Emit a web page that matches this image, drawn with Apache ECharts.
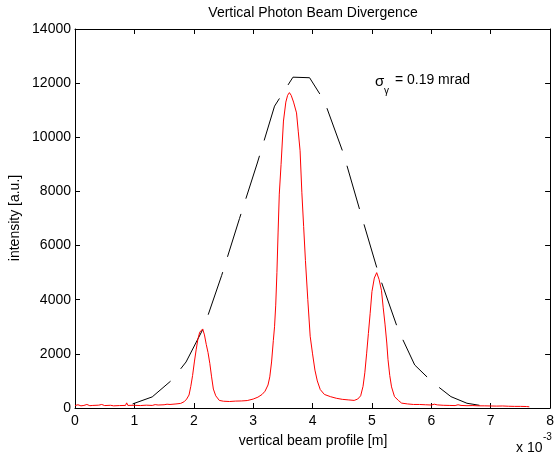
<!DOCTYPE html>
<html>
<head>
<meta charset="utf-8">
<script src="https://cdn.jsdelivr.net/npm/echarts@6/dist/echarts.min.js"></script>
<style>
html,body{margin:0;padding:0;background:#fff;}
#chart{width:557px;height:455px;}
</style>
</head>
<body>
<div id="chart"></div>
<script>
// Measured profile (red), x in units of 1e-3 m
var redX = [0,0.05,0.1,0.15,0.2,0.25,0.3,0.4,0.45,0.5,0.6,0.65,0.75,0.85,0.87,0.89,1.0,1.1,1.2,1.3,1.35,1.4,1.5,1.55,1.6,1.7,1.78,1.84,1.88,1.92,1.95,1.98,2.01,2.04,2.07,2.1,2.15,2.18,2.21,2.24,2.27,2.3,2.33,2.37,2.43,2.5,2.6,2.7,2.8,2.9,3.0,3.08,3.15,3.2,3.25,3.28,3.31,3.34,3.36,3.38,3.4,3.42,3.44,3.47,3.51,3.55,3.58,3.61,3.64,3.68,3.73,3.76,3.79,3.82,3.85,3.88,3.92,3.96,4.0,4.04,4.08,4.13,4.2,4.3,4.4,4.5,4.6,4.7,4.76,4.81,4.85,4.88,4.91,4.94,4.97,5.0,5.04,5.08,5.12,5.16,5.19,5.22,5.25,5.27,5.3,5.33,5.38,5.45,5.5,5.6,5.7,5.8,5.9,6.0,6.05,6.1,6.2,6.3,6.4,6.45,6.5,6.6,6.7,6.8,6.9,7.0,7.1,7.2,7.3,7.4,7.5,7.6,7.65];
var redY = [90,120,80,95,130,85,95,105,130,90,100,80,90,95,190,95,100,90,105,95,125,110,120,140,130,150,170,235,330,480,800,1200,1700,2150,2550,2800,2920,2700,2350,2050,1650,1150,700,450,280,250,240,255,260,275,330,400,500,620,850,1150,1700,2500,3000,3800,5000,6500,7900,9000,10600,11300,11550,11650,11550,11300,10900,10200,9500,7950,6700,5450,4000,2650,2000,1400,1000,680,500,420,360,320,300,280,330,450,800,1300,2000,2750,3500,4300,4800,5000,4750,4350,3700,3100,2400,1800,1200,780,420,270,180,150,130,130,120,110,140,115,100,95,90,120,95,85,90,80,80,75,70,75,65,60,60,55,45];
// Gaussian fit (black dashed)
var fitX = [0.97,1.3,1.63,1.87,2.17,2.47,2.77,3.07,3.36,3.67,3.95,4.2,4.52,4.81,5.12,5.44,5.72,6.02,6.33,6.6,6.92];
var fitY = [150,410,1030,1700,2980,4900,7000,9050,11150,12220,12200,11330,9400,7200,4900,2900,1590,950,420,175,60];
var xTicks = {min:0, max:8, interval:1};
var yTicks = {min:0, max:14000, interval:2000};

var redData = redX.map(function(x,i){return [x, redY[i]];});
var fitData = fitX.map(function(x,i){return [x, fitY[i]];});

var FONT = '"Liberation Sans", Arial, sans-serif';
var chart = echarts.init(document.getElementById('chart'), null, {renderer:'canvas'});
function axisBase(show){
  return {
    axisLine:{show:true, onZero:false, lineStyle:{color:'#000', width:1}},
    axisTick:{show:true, inside:true, length:5, lineStyle:{color:'#000', width:1}},
    axisLabel:{show:show, color:'#000', fontSize:14, fontFamily:FONT, formatter:function(v){return String(v);}},
    splitLine:{show:false}
  };
}
var xb = axisBase(true); xb.type='value'; xb.position='bottom'; xb.min=xTicks.min; xb.max=xTicks.max; xb.interval=xTicks.interval; xb.axisLabel.margin=6;
var xt = axisBase(false); xt.type='value'; xt.position='top'; xt.min=xTicks.min; xt.max=xTicks.max; xt.interval=xTicks.interval;
var yl = axisBase(true); yl.type='value'; yl.position='left'; yl.min=yTicks.min; yl.max=yTicks.max; yl.interval=yTicks.interval; yl.axisLabel.margin=4;
var yr = axisBase(false); yr.type='value'; yr.position='right'; yr.min=yTicks.min; yr.max=yTicks.max; yr.interval=yTicks.interval;

chart.setOption({
  animation:false,
  backgroundColor:'#fff',
  grid:{left:75, right:4, top:29, bottom:47, containLabel:false},
  xAxis:[xb, xt],
  yAxis:[yl, yr],
  series:[
    {type:'line', data:fitData, xAxisIndex:0, yAxisIndex:0, symbol:'none', lineStyle:{color:'#000', width:1, type:[45,16]}, z:2},
    {type:'line', data:redData, xAxisIndex:0, yAxisIndex:0, symbol:'none', lineStyle:{color:'#ff0000', width:1}, z:3}
  ],
  graphic:[
    {type:'text', x:313, y:13, style:{text:'Vertical Photon Beam Divergence', fill:'#000', font:'14px '+FONT, textAlign:'center', textVerticalAlign:'middle'}},
    {type:'text', x:313, y:441, style:{text:'vertical beam profile [m]', fill:'#000', font:'14px '+FONT, textAlign:'center', textVerticalAlign:'middle'}},
    {type:'text', x:15, y:218, rotation:Math.PI/2, style:{text:'intensity [a.u.]', fill:'#000', font:'14px '+FONT, textAlign:'center', textVerticalAlign:'middle'}},
    {type:'text', x:516, y:448, style:{text:'x 10', fill:'#000', font:'14px '+FONT, textAlign:'left', textVerticalAlign:'middle'}},
    {type:'text', x:543, y:437, style:{text:'-3', fill:'#000', font:'10px '+FONT, textAlign:'left', textVerticalAlign:'middle'}},
    {type:'text', x:375, y:82, style:{text:'σ', fill:'#000', font:'15px '+FONT, textAlign:'left', textVerticalAlign:'middle'}},
    {type:'text', x:384, y:91, style:{text:'γ', fill:'#000', font:'10px '+FONT, textAlign:'left', textVerticalAlign:'middle'}},
    {type:'text', x:391, y:80, style:{text:' = 0.19 mrad', fill:'#000', font:'14px '+FONT, textAlign:'left', textVerticalAlign:'middle'}}
  ]
});
</script>
</body>
</html>
